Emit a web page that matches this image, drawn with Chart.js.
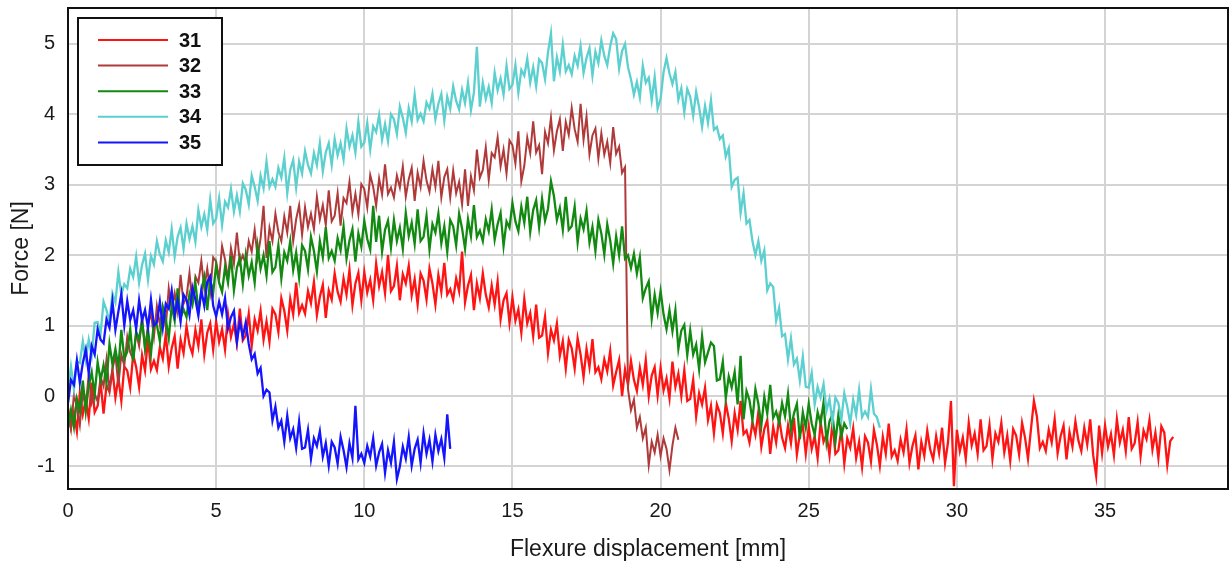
<!DOCTYPE html>
<html>
<head>
<meta charset="utf-8">
<script src="https://cdn.jsdelivr.net/npm/chart.js@4.4.1/dist/chart.umd.min.js"></script>
<style>
  html, body { margin: 0; padding: 0; background: #ffffff; }
  #wrap { width: 1231px; height: 567px; position: relative; }
</style>
</head>
<body>
<div id="wrap"><canvas id="chart" width="1231" height="567"></canvas></div>
<script>
// Specimen names shown in the legend
const seriesNames = ['31', '32', '33', '34', '35'];
const seriesColors = ['#ff1414', '#b03a3a', '#128a12', '#5ccfcf', '#1414ff'];

// Axis ticks
const xTickValues = [0, 5, 10, 15, 20, 25, 30, 35];
const yTickValues = [-1, 0, 1, 2, 3, 4, 5];

// Readings are logged every 0.1 mm of flexure displacement, starting at 0 mm
const sampleStep = 0.1;

// Force [N] readings per specimen, one row per millimetre
const force31 = [
  -0.17, -0.44, -0.23, -0.50, 0.04, -0.26, -0.05, -0.32, 0.19, -0.23,
  -0.14, 0.20, -0.25, 0.15, 0.06, 0.37, -0.02, 0.26, -0.07, 0.42,
  0.36, 0.12, 0.59, 0.41, 0.13, 0.58, 0.36, 0.81, 0.38, 0.50,
  0.37, 0.69, 0.53, 0.88, 0.42, 0.68, 0.85, 0.39, 0.80, 0.61,
  0.99, 0.73, 0.60, 0.94, 0.71, 1.09, 0.59, 0.90, 1.03, 0.66,
  1.06, 0.77, 0.95, 0.66, 1.16, 0.84, 1.02, 0.75, 1.24, 0.79,
  0.86, 1.17, 0.71, 1.09, 0.93, 1.21, 0.80, 1.06, 0.77, 1.24,
  1.16, 0.91, 1.39, 1.21, 0.93, 1.38, 1.16, 1.61, 1.18, 1.29,
  1.17, 1.49, 1.32, 1.62, 1.15, 1.41, 1.58, 1.11, 1.50, 1.37,
  1.74, 1.48, 1.34, 1.67, 1.44, 1.79, 1.29, 1.60, 1.75, 1.36,
  1.76, 1.47, 1.65, 1.36, 1.88, 1.56, 1.76, 1.46, 2.00, 1.49,
  1.56, 1.85, 1.36, 1.73, 1.60, 1.85, 1.43, 1.66, 1.30, 1.74,
  1.64, 1.37, 1.81, 1.60, 1.30, 1.72, 1.48, 1.89, 1.44, 1.52,
  1.37, 1.67, 1.49, 2.05, 1.33, 1.57, 1.72, 1.22, 1.60, 1.39,
  1.74, 1.44, 1.26, 1.57, 1.30, 1.63, 1.09, 1.36, 1.46, 1.04,
  1.40, 1.07, 1.23, 0.90, 1.38, 1.03, 1.18, 0.85, 1.30, 0.83,
  0.86, 1.13, 0.61, 0.94, 0.79, 1.03, 0.57, 0.78, 0.39, 0.80,
  0.68, 0.39, 0.82, 0.59, 0.27, 0.67, 0.41, 0.81, 0.34, 0.41,
  0.24, 0.52, 0.35, 0.64, 0.15, 0.34, 0.51, 0.00, 0.38, 0.16,
  0.50, 0.23, 0.07, 0.40, 0.16, 0.51, 0.00, 0.29, 0.41, 0.01,
  0.40, 0.08, 0.25, -0.03, 0.49, 0.13, 0.32, 0.00, 0.37, -0.07,
  -0.04, 0.23, -0.29, 0.04, -0.12, 0.12, -0.34, -0.14, -0.53, -0.12,
  -0.24, -0.53, -0.10, -0.32, -0.64, -0.24, -0.48, -0.07, -0.54, -0.49,
  -0.66, -0.37, -0.55, -0.23, -0.72, -0.47, -0.34, -0.82, -0.44, -0.66,
  -0.31, -0.59, -0.74, -0.42, -0.67, -0.31, -0.83, -0.54, -0.42, -0.82,
  -0.44, -0.75, -0.57, -0.88, -0.37, -0.65, -0.54, -0.84, -0.37, -0.82,
  -0.77, -0.47, -0.96, -0.60, -0.73, -0.46, -0.88, -0.65, -1.01, -0.57,
  -0.66, -0.93, -0.48, -0.69, -0.99, -0.58, -0.82, -0.39, -0.86, -0.77,
  -0.92, -0.62, -0.80, -0.47, -0.95, -0.71, -0.56, -1.04, -0.65, -0.85,
  -0.49, -0.76, -0.90, -0.57, -0.81, -0.45, -0.95, -0.66, -0.07, -1.28,
  -0.48, -0.78, -0.59, -0.89, -0.38, -0.70, -0.53, -0.82, -0.33, -0.77,
  -0.71, -0.41, -0.89, -0.53, -0.65, -0.38, -0.80, -0.56, -0.92, -0.47,
  -0.56, -0.83, -0.38, -0.59, -0.89, -0.47, -0.07, -0.29, -0.74, -0.65,
  -0.78, -0.48, -0.66, -0.33, -0.81, -0.57, -0.42, -0.90, -0.51, -0.72,
  -0.36, -0.63, -0.78, -0.45, -0.69, -0.33, -0.84, -1.13, -0.42, -0.81,
  -0.42, -0.72, -0.54, -0.84, -0.33, -0.66, -0.48, -0.78, -0.30, -0.75,
  -0.67, -0.37, -0.85, -0.49, -0.61, -0.34, -0.76, -0.52, -0.88, -0.43,
  -0.52, -0.98, -0.64, -0.58
];

const force32 = [
  -0.24, -0.47, 0.02, -0.15, -0.41, 0.05, -0.15, 0.31, -0.10, 0.03,
  -0.08, 0.27, 0.14, 0.52, 0.09, 0.38, 0.58, 0.15, 0.59, 0.43,
  0.84, 0.62, 0.52, 0.90, 0.71, 1.12, 0.66, 1.01, 1.18, 0.84,
  1.28, 1.02, 1.24, 0.98, 1.53, 1.24, 1.46, 1.20, 1.72, 1.31,
  1.41, 1.75, 1.30, 1.70, 1.61, 1.92, 1.53, 1.81, 1.48, 1.97,
  1.91, 1.66, 2.13, 1.94, 1.66, 2.10, 1.88, 2.32, 1.89, 2.00,
  1.87, 2.20, 2.05, 2.36, 1.97, 2.24, 2.70, 1.96, 2.39, 2.20,
  2.59, 2.33, 2.20, 2.55, 2.32, 2.70, 2.20, 2.51, 2.71, 2.29,
  2.68, 2.40, 2.59, 2.37, 2.83, 2.51, 2.71, 2.43, 2.92, 2.48,
  2.56, 2.88, 2.42, 2.81, 2.74, 3.04, 2.61, 2.87, 2.58, 3.01,
  2.94, 2.68, 3.14, 2.97, 2.70, 3.09, 2.86, 3.29, 2.87, 2.96,
  2.82, 3.13, 2.96, 3.26, 2.83, 3.08, 3.24, 2.77, 3.17, 2.97,
  3.34, 3.06, 2.90, 3.22, 2.97, 3.34, 2.82, 3.11, 3.22, 2.82,
  3.20, 2.88, 3.04, 2.72, 3.22, 2.70, 3.12, 2.92, 3.50, 3.10,
  3.21, 3.53, 3.07, 3.45, 3.39, 3.67, 3.26, 3.50, 3.16, 3.63,
  3.56, 3.30, 3.76, 3.05, 3.27, 3.67, 3.45, 3.90, 3.46, 3.56,
  3.15, 3.75, 3.59, 3.95, 3.49, 3.76, 3.93, 3.48, 3.89, 3.71,
  4.09, 3.79, 3.61, 4.15, 3.64, 3.97, 3.43, 3.70, 3.80, 3.37,
  3.73, 3.43, 3.61, 3.31, 3.82, 3.44, 3.54, 3.17, 3.25,
  0.10, -0.20, -0.05, -0.45, -0.30, -0.60, -0.45, -0.98, -0.65, -0.80,
  -0.55, -0.85, -0.60, -0.75, -1.05, -0.70, -0.45, -0.62
];

const force33 = [
  -0.45, -0.20, -0.44, -0.04, -0.21, 0.22, -0.22, 0.15, 0.34, 0.02,
  0.48, 0.22, 0.44, 0.19, 0.74, 0.45, 0.67, 0.41, 0.94, 0.53,
  0.63, 0.95, 0.50, 0.91, 0.81, 1.07, 0.68, 0.94, 0.60, 1.06,
  1.01, 0.78, 1.26, 1.09, 0.82, 1.28, 1.07, 1.53, 1.11, 1.23,
  1.12, 1.45, 1.30, 1.61, 1.22, 1.49, 1.69, 1.22, 1.65, 1.47,
  1.86, 1.61, 1.48, 1.83, 1.61, 1.99, 1.50, 1.82, 1.96, 1.59,
  2.00, 1.71, 1.90, 1.61, 2.13, 1.81, 2.00, 1.71, 2.20, 1.76,
  1.83, 2.14, 1.67, 2.04, 1.92, 2.20, 1.79, 2.04, 1.68, 2.14,
  2.06, 1.80, 2.26, 2.06, 1.77, 2.20, 1.97, 2.40, 1.96, 2.06,
  1.92, 2.24, 2.07, 2.41, 1.95, 2.21, 2.37, 1.91, 2.31, 2.12,
  2.49, 2.23, 2.08, 2.70, 2.19, 2.56, 2.05, 2.36, 2.49, 2.11,
  2.50, 2.20, 2.39, 2.09, 2.60, 2.27, 2.46, 2.16, 2.65, 2.20,
  2.26, 2.56, 2.08, 2.44, 2.32, 2.59, 2.17, 2.41, 2.05, 2.50,
  2.41, 2.14, 2.59, 2.38, 2.09, 2.51, 2.27, 2.71, 2.26, 2.35,
  2.20, 2.51, 2.34, 2.65, 2.22, 2.44, 2.60, 2.13, 2.48, 2.39,
  2.74, 2.48, 2.34, 2.69, 2.46, 2.83, 2.33, 2.64, 2.78, 2.40,
  2.80, 2.49, 2.66, 3.05, 2.84, 2.50, 2.67, 2.36, 2.83, 2.36,
  2.41, 2.69, 2.18, 2.52, 2.37, 2.63, 2.18, 2.40, 2.06, 2.50,
  2.31, 2.01, 2.44, 2.21, 1.88, 2.27, 2.00, 2.41, 1.95, 2.00,
  1.82, 2.02, 1.74, 1.97, 1.39, 1.53, 1.63, 1.10, 1.44, 1.18,
  1.49, 1.16, 0.95, 1.22, 0.92, 1.22, 0.67, 0.93, 1.01, 0.58,
  0.93, 0.59, 0.73, 0.38, 0.85, 0.48, 0.62, 0.76, 0.71, 0.22,
  0.24, 0.49, -0.03, 0.28, 0.12, 0.34, -0.12, 0.57, -0.33, 0.07,
  -0.06, -0.34, 0.10, -0.11, -0.42, -0.01, -0.25, 0.16, -0.31, -0.22,
  -0.38, -0.10, -0.29, 0.03, -0.47, -0.25, -0.11, -0.61, -0.23, -0.45,
  -0.11, -0.39, -0.55, -0.23, -0.39, -0.09, -0.65, -0.36, -0.26, -0.65,
  -0.27, -0.57, -0.39, -0.47
];

const force34 = [
  0.07, 0.42, 0.10, 0.49, 0.47, 0.78, 0.51, 0.80, 0.58, 1.04,
  1.05, 0.89, 1.34, 1.22, 1.05, 1.46, 1.33, 1.76, 1.44, 1.59,
  1.53, 1.81, 1.69, 1.98, 1.61, 1.86, 2.02, 1.65, 1.99, 1.87,
  2.20, 2.01, 1.91, 2.21, 2.04, 2.37, 1.98, 2.26, 2.39, 2.09,
  2.45, 2.23, 2.41, 2.19, 2.64, 2.40, 2.58, 2.36, 2.79, 2.45,
  2.52, 2.81, 2.43, 2.76, 2.68, 2.94, 2.62, 2.85, 2.62, 3.02,
  2.93, 2.72, 3.13, 2.97, 2.77, 3.13, 2.95, 3.33, 2.97, 3.08,
  2.97, 3.24, 3.10, 3.38, 2.88, 3.21, 3.35, 2.96, 3.33, 3.16,
  3.48, 3.28, 3.16, 3.45, 3.28, 3.59, 3.19, 3.46, 3.59, 3.28,
  3.65, 3.42, 3.59, 3.36, 3.80, 3.54, 3.70, 3.46, 3.89, 3.54,
  3.60, 3.88, 3.50, 3.83, 3.75, 3.99, 3.64, 3.86, 3.62, 4.00,
  3.93, 3.72, 4.11, 3.95, 3.74, 4.09, 3.90, 4.28, 3.92, 4.01,
  3.90, 4.17, 4.08, 4.29, 3.93, 4.15, 4.29, 3.91, 4.25, 4.08,
  4.40, 4.19, 4.07, 4.35, 4.16, 4.45, 4.06, 4.31, 4.96, 4.11,
  4.45, 4.22, 4.39, 4.16, 4.59, 4.34, 4.51, 4.28, 4.69, 4.36,
  4.42, 4.70, 4.31, 4.63, 4.55, 4.79, 4.45, 4.67, 4.40, 4.78,
  4.73, 4.50, 4.88, 5.15, 4.47, 4.81, 4.61, 4.99, 4.61, 4.70,
  4.57, 4.83, 4.69, 4.97, 4.59, 4.80, 4.94, 4.55, 4.89, 4.73,
  5.05, 4.83, 4.70, 4.97, 5.15, 5.07, 4.65, 4.90, 5.00, 4.67,
  4.50, 4.28, 4.46, 4.24, 4.69, 4.45, 4.52, 4.20, 4.53, 4.08,
  4.22, 4.60, 4.80, 4.58, 4.43, 4.60, 4.21, 4.37, 4.03, 4.36,
  4.25, 3.98, 4.32, 4.10, 3.82, 4.12, 3.88, 4.20, 3.78, 3.82,
  3.65, 3.70, 3.40, 3.52, 2.97, 3.07, 3.10, 2.60, 2.88, 2.45,
  2.50, 2.20, 2.00, 2.20, 1.92, 2.07, 1.50, 1.60, 1.55, 1.07,
  1.25, 0.85, 0.88, 0.52, 0.82, 0.45, 0.53, 0.22, 0.56, 0.13,
  0.12, 0.33, -0.12, 0.13, -0.02, 0.17, -0.21, -0.04, -0.37, -0.02,
  -0.10, -0.34, 0.04, -0.15, -0.39, -0.05, -0.27, 0.09, -0.30, -0.22,
  -0.30, 0.10, -0.25, -0.30, -0.45
];

const force35 = [
  -0.10, 0.23, 0.16, 0.51, 0.19, 0.47, 0.66, 0.32, 0.71, 0.59,
  0.95, 0.80, 0.75, 1.09, 0.97, 1.34, 0.94, 1.20, 1.45, 1.00,
  1.35, 1.08, 1.22, 0.95, 1.36, 1.07, 1.22, 0.97, 1.37, 1.00,
  1.04, 1.34, 0.97, 1.31, 1.24, 1.50, 1.15, 1.36, 1.06, 1.44,
  1.37, 1.15, 1.54, 1.37, 1.14, 1.50, 1.28, 1.62, 1.70, 1.28,
  1.13, 1.34, 1.16, 1.39, 0.96, 1.12, 1.21, 0.77, 1.06, 0.84,
  1.05, 0.74, 0.52, 0.60, 0.32, 0.40, 0.00, 0.09, 0.05, -0.35,
  -0.15, -0.45, -0.35, -0.65, -0.28, -0.60, -0.47, -0.74, -0.36, -0.75,
  -0.73, -0.48, -0.89, -0.60, -0.71, -0.50, -0.86, -0.67, -0.99, -0.65,
  -0.73, -0.96, -0.58, -0.77, -1.01, -0.67, -0.88, -0.14, -0.90, -0.82,
  -0.95, -0.71, -0.86, -0.60, -0.99, -0.80, -0.68, -1.09, -0.77, -0.95,
  -0.65, -1.18, -1.00, -0.72, -0.89, -0.58, -0.99, -0.75, -0.62, -0.95,
  -0.53, -0.82, -0.62, -0.93, -0.55, -0.78, -0.61, -0.88, -0.26, -0.75
];

const forceSeries = [force31, force32, force33, force34, force35];

// Pair each reading with its displacement
function toPoints(values) {
  return values.map((v, i) => ({ x: Math.round(i * sampleStep * 100) / 100, y: v }));
}

// Red sits underneath, blue on top
const drawOrder = [5, 4, 3, 2, 1];

const datasets = forceSeries.map((values, k) => ({
  label: seriesNames[k],
  data: toPoints(values),
  borderColor: seriesColors[k],
  backgroundColor: seriesColors[k],
  borderWidth: k === 1 ? 2 : 2.3,
  pointRadius: 0,
  tension: 0,
  fill: false,
  order: drawOrder[k]
}));

const fontFamily = '"Liberation Sans", Arial, Helvetica, sans-serif';

// Black frame around the plotting area
const framePlugin = {
  id: 'frame',
  afterDatasetsDraw(chart) {
    const { ctx, chartArea: a } = chart;
    ctx.save();
    ctx.strokeStyle = '#111111';
    ctx.lineWidth = 2;
    ctx.strokeRect(a.left, a.top, a.right - a.left, a.bottom - a.top);
    ctx.restore();
  }
};

// Boxed legend in the upper-left corner of the plot
const boxLegendPlugin = {
  id: 'boxLegend',
  afterDraw(chart) {
    const { ctx, chartArea: a } = chart;
    const bx = a.left + 10, by = a.top + 10, bw = 144, bh = 147;
    ctx.save();
    ctx.fillStyle = '#ffffff';
    ctx.fillRect(bx, by, bw, bh);
    ctx.strokeStyle = '#111111';
    ctx.lineWidth = 2;
    ctx.strokeRect(bx, by, bw, bh);
    chart.data.datasets.forEach((ds, i) => {
      const y = by + 22 + i * 25.6;
      ctx.strokeStyle = ds.borderColor;
      ctx.lineWidth = 2;
      ctx.beginPath();
      ctx.moveTo(bx + 20, y);
      ctx.lineTo(bx + 90, y);
      ctx.stroke();
      ctx.fillStyle = '#111111';
      ctx.font = 'bold 20px ' + fontFamily;
      ctx.textAlign = 'left';
      ctx.textBaseline = 'middle';
      ctx.fillText(ds.label, bx + 101, y + 1);
    });
    ctx.restore();
  }
};

// Fixed axis band sizes so the plot area lines up exactly
function fixBand(size, horizontal) {
  return (s) => {
    if (horizontal) { s.height = size; } else { s.width = size; }
    s.paddingTop = 0; s.paddingBottom = 0; s.paddingLeft = 0; s.paddingRight = 0;
  };
}

new Chart(document.getElementById('chart').getContext('2d'), {
  type: 'line',
  data: { datasets },
  options: {
    responsive: false,
    animation: false,
    devicePixelRatio: 1,
    layout: { padding: { top: 8, right: 3, left: 0, bottom: 0 } },
    plugins: { legend: { display: false }, tooltip: { enabled: false } },
    scales: {
      x: {
        type: 'linear',
        min: 0,
        max: 39.15,
        afterBuildTicks: (s) => { s.ticks = xTickValues.map(v => ({ value: v })); },
        afterFit: fixBand(78, true),
        grid: { color: '#d4d4d4', lineWidth: 2, drawTicks: false },
        border: { display: false },
        ticks: {
          font: { family: fontFamily, size: 20 },
          color: '#1a1a1a',
          padding: 10,
          maxRotation: 0,
          autoSkip: false
        },
        title: {
          display: true,
          text: 'Flexure displacement [mm]',
          font: { family: fontFamily, size: 23 },
          color: '#1a1a1a',
          padding: { top: 0, bottom: 4 }
        }
      },
      y: {
        type: 'linear',
        min: -1.32,
        max: 5.51,
        afterBuildTicks: (s) => { s.ticks = yTickValues.map(v => ({ value: v })); },
        afterFit: fixBand(68, false),
        grid: { color: '#d4d4d4', lineWidth: 2, drawTicks: false },
        border: { display: false },
        ticks: {
          font: { family: fontFamily, size: 20 },
          color: '#1a1a1a',
          padding: 13,
          autoSkip: false
        },
        title: {
          display: true,
          text: 'Force [N]',
          font: { family: fontFamily, size: 23 },
          color: '#1a1a1a',
          padding: { top: 8, bottom: 0 }
        }
      }
    }
  },
  plugins: [framePlugin, boxLegendPlugin]
});
</script>
</body>
</html>
